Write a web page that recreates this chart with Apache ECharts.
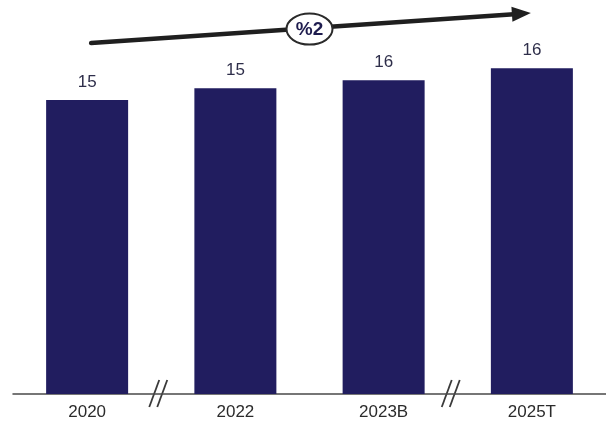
<!DOCTYPE html>
<html>
<head>
<meta charset="utf-8">
<script src="https://cdn.jsdelivr.net/npm/echarts@6/dist/echarts.min.js"></script>
<style>
html,body{margin:0;padding:0;background:#fff;}
#main{width:606px;height:428px;}
</style>
</head>
<body>
<div id="main"></div>
<script>
const categories = ['2020', '2022', '2023B', '2025T'];
const values = [14.8, 15.4, 15.8, 16.4];
const growthLabel = '%2';

const chart = echarts.init(document.getElementById('main'), null, {renderer: 'canvas'});
chart.setOption({
  animation: false,
  backgroundColor: '#ffffff',
  grid: {left: 13, width: 598, top: 36.5, bottom: 34},
  xAxis: {
    type: 'category',
    data: categories,
    axisLine: {show: true, lineStyle: {color: '#4a4a4a', width: 1.5}},
    axisTick: {show: false},
    axisLabel: {color: '#2b2b2b', fontSize: 17, fontFamily: 'Liberation Sans, Arial, sans-serif', margin: 10}
  },
  yAxis: {
    type: 'value', min: 0, max: 18,
    show: false, splitLine: {show: false}
  },
  series: [{
    type: 'bar',
    data: values,
    barWidth: 82,
    itemStyle: {color: '#211d5f'},
    label: {
      show: true, position: 'top', distance: 9,
      color: '#2e2e4a', fontSize: 17, fontFamily: 'Liberation Sans, Arial, sans-serif',
      formatter: p => Math.round(p.value)
    }
  }]
});

// decorations positioned from the axes
const px = i => chart.convertToPixel({xAxisIndex: 0}, i);
const base = chart.convertToPixel({yAxisIndex: 0}, 0);
const c0 = px(0), c1 = px(1), c2 = px(2), c3 = px(3);
const brk = [(c0 + c1) / 2 - 3, (c2 + c3) / 2 - 7];

const graphics = [];
brk.forEach(bx => {
  [-4, 4].forEach(d => {
    graphics.push({
      type: 'line',
      shape: {x1: bx + d - 5, y1: base + 13, x2: bx + d + 5, y2: base - 14},
      style: {stroke: '#3a3a3a', lineWidth: 1.8}
    });
  });
});

// growth arrow
const ax1 = c0 + 4, ay1 = 43, ax2 = c3 - 1, ay2 = 13;
const len = Math.hypot(ax2 - ax1, ay2 - ay1);
const ux = (ax2 - ax1) / len, uy = (ay2 - ay1) / len;
const nx = -uy, ny = ux;
const bx = ax2 - 19 * ux, by = ay2 - 19 * uy;
graphics.push({
  type: 'line',
  shape: {x1: ax1, y1: ay1, x2: bx + 2 * ux, y2: by + 2 * uy},
  style: {stroke: '#1f1f1f', lineWidth: 4.5, lineCap: 'round'}
});
graphics.push({
  type: 'polygon',
  shape: {points: [[ax2, ay2], [bx + 7.5 * nx, by + 7.5 * ny], [bx - 7.5 * nx, by - 7.5 * ny]]},
  style: {fill: '#1f1f1f'}
});
const ex = (c1 + c2) / 2;
const ey = ay1 + (ex - ax1) * (ay2 - ay1) / (ax2 - ax1) + 1;
graphics.push({
  type: 'ellipse',
  shape: {cx: ex, cy: ey, rx: 23, ry: 15.5},
  style: {fill: '#ffffff', stroke: '#2a2a2a', lineWidth: 2}
});
graphics.push({
  type: 'text',
  x: ex, y: ey + 1,
  style: {
    text: growthLabel, fill: '#1e1c4e', font: 'bold 19px Liberation Sans, Arial, sans-serif',
    align: 'center', verticalAlign: 'middle'
  }
});
chart.setOption({graphic: graphics});
</script>
</body>
</html>
